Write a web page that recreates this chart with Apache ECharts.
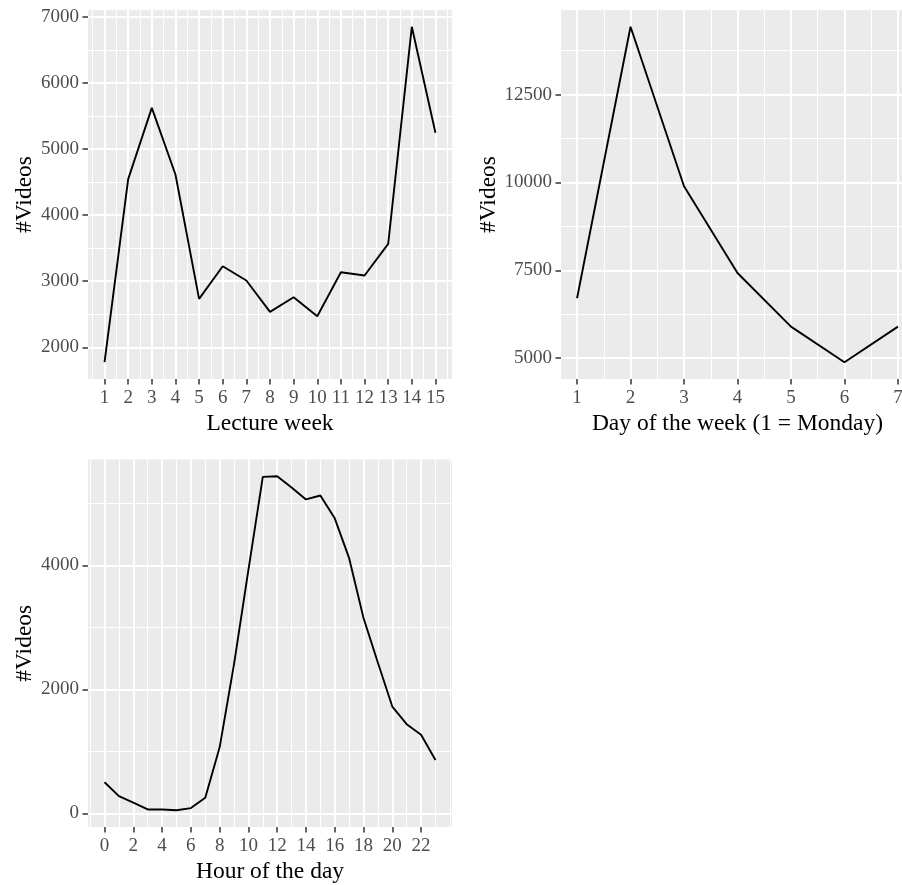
<!DOCTYPE html>
<html><head><meta charset="utf-8">
<script src="https://cdn.jsdelivr.net/npm/echarts@6/dist/echarts.min.js"></script>
<style>html,body{margin:0;padding:0;background:#fff;overflow:hidden}#c{width:920px;height:885px}</style>
</head><body><div id="c"></div>
<script>
// ---- data ----
const weeks = [1,2,3,4,5,6,7,8,9,10,11,12,13,14,15];
const weekVideos = [1775,4545,5623,4614,2734,3227,3011,2537,2758,2471,3136,3086,3566,6849,5245];
const weekXTicks = [1,2,3,4,5,6,7,8,9,10,11,12,13,14,15];
const weekYTicks = [2000,3000,4000,5000,6000,7000];

const days = [1,2,3,4,5,6,7];
const dayVideos = [6706,14431,9892,7426,5899,4886,5899];
const dayXTicks = [1,2,3,4,5,6,7];
const dayYTicks = [5000,7500,10000,12500];

const hours = [0,1,2,3,4,5,6,7,8,9,10,11,12,13,14,15,16,17,18,19,20,21,22,23];
const hourVideos = [503,278,175,64,64,50,86,252,1066,2410,3930,5430,5441,5259,5066,5130,4761,4118,3154,2431,1724,1440,1269,862];
const hourXTicks = [0,2,4,6,8,10,12,14,16,18,20,22];
const hourYTicks = [0,2000,4000];

const xTitles = ['Lecture week', 'Day of the week (1 = Monday)', 'Hour of the day'];
const yTitle = '#Videos';

// ---- helpers ----
const FONT = '"Liberation Serif", "Times New Roman", serif';
function expand(vals){ const lo=Math.min(...vals), hi=Math.max(...vals), r=hi-lo; return [lo-0.05*r, hi+0.05*r]; }
function minors(ticks, lo, hi){
  const st = ticks[1]-ticks[0];
  const ext = [ticks[0]-st, ...ticks, ticks[ticks.length-1]+st];
  const out = [];
  for (let i=0;i<ext.length;i++){
    if (ticks.indexOf(ext[i]) < 0) out.push(ext[i]);
    if (i < ext.length-1) out.push((ext[i]+ext[i+1])/2);
  }
  return out.filter(v => v > lo && v < hi);
}

const panels = [
  {x: weeks, y: weekVideos, xt: weekXTicks, yt: weekYTicks, grid:{left:88, top:10, width:364, height:369}, yGap:49},
  {x: days, y: dayVideos, xt: dayXTicks, yt: dayYTicks, grid:{left:561, top:10, width:353, height:369}, yGap:58},
  {x: hours, y: hourVideos, xt: hourXTicks, yt: hourYTicks, grid:{left:88, top:459.5, width:364, height:368.5}, yGap:49}
];

const grid=[], xAxis=[], yAxis=[], series=[];
panels.forEach((p, i) => {
  grid.push(Object.assign({show:true, backgroundColor:'#EBEBEB', borderWidth:0}, p.grid));
  const xr = expand(p.x), yr = expand(p.y);
  const xm = minors(p.xt, xr[0], xr[1]), ym = minors(p.yt, yr[0], yr[1]);
  const labelStyle = {color:'#4D4D4D', fontSize:19, fontFamily:FONT, formatter: v => String(v)};
  const nameStyle = {color:'#000', fontSize:23.5, fontFamily:FONT};
  xAxis.push({type:'value', gridIndex:i, min:xr[0], max:xr[1], position:'bottom',
    axisLine:{show:false, onZero:false},
    axisTick:{show:true, customValues:p.xt, length:5.5, lineStyle:{color:'#333333', width:1.5}},
    axisLabel:Object.assign({customValues:p.xt, margin:10}, labelStyle),
    splitLine:{show:false},
    name:xTitles[i], nameLocation:'middle', nameGap:33, nameTextStyle:nameStyle});
  yAxis.push({type:'value', gridIndex:i, min:yr[0], max:yr[1], position:'left',
    axisLine:{show:false, onZero:false},
    axisTick:{show:true, customValues:p.yt, length:5.5, lineStyle:{color:'#333333', width:1.5}},
    axisLabel:Object.assign({customValues:p.yt, margin:9}, labelStyle),
    splitLine:{show:false},
    name:yTitle, nameLocation:'middle', nameGap:p.yGap, nameTextStyle:nameStyle});
  const pts = p.x.map((v,k)=>[v, p.y[k]]);
  const gl = [];
  xm.forEach(v => gl.push({xAxis:v, lineStyle:{width:1}}));
  ym.forEach(v => gl.push({yAxis:v, lineStyle:{width:1}}));
  p.xt.forEach(v => gl.push({xAxis:v, lineStyle:{width:2}}));
  p.yt.forEach(v => gl.push({yAxis:v, lineStyle:{width:2}}));
  // gridlines layer (ggplot-style panel grid)
  series.push({type:'line', xAxisIndex:i, yAxisIndex:i, data:pts, symbol:'none', silent:true, z:1,
    lineStyle:{opacity:0}, animation:false,
    markLine:{z:1, silent:true, symbol:'none', animation:false, label:{show:false}, emphasis:{disabled:true},
      lineStyle:{color:'#FFFFFF', type:'solid'}, data:gl}});
  // data line
  series.push({type:'line', xAxisIndex:i, yAxisIndex:i, data:pts, symbol:'none', showSymbol:false, z:10,
    lineStyle:{color:'#000000', width:1.9}, animation:false});
});

const chart = echarts.init(document.getElementById('c'), null, {renderer:'canvas'});
chart.setOption({animation:false, backgroundColor:'#FFFFFF', grid, xAxis, yAxis, series});
</script>
</body></html>
